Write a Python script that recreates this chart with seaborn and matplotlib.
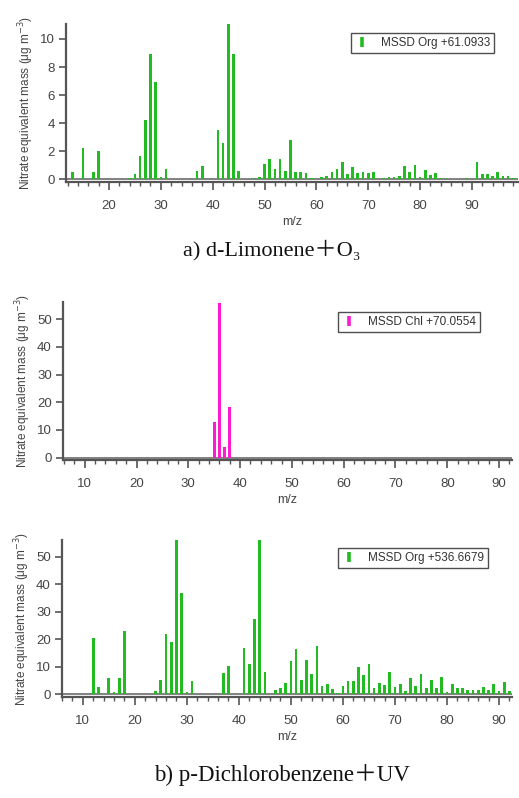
import numpy as np
import pandas as pd
import matplotlib
matplotlib.use("Agg")
import matplotlib.pyplot as plt
from matplotlib.lines import Line2D
from matplotlib.ticker import MultipleLocator
import seaborn as sns

# ---------------- data ----------------
mz_a = [13, 15, 17, 18, 24, 25, 26, 27, 28, 29, 30, 31, 37, 38, 41, 42, 43, 44, 45,
        48, 49, 50, 51, 52, 53, 54, 55, 56, 57, 58, 59, 61, 62, 63, 64, 65, 66, 67,
        68, 69, 70, 71, 73, 74, 75, 76, 77, 78, 79, 80, 81, 82, 83, 84, 85, 89, 91,
        92, 93, 94, 95, 96, 97, 98]
val_a = [0.5, 2.25, 0.5, 2.0, 0.1, 0.35, 1.65, 4.25, 8.9, 6.95, 0.15, 0.7, 0.55, 0.9,
         3.5, 2.55, 11.1, 8.9, 0.6, 0.1, 0.15, 1.1, 1.4, 0.75, 1.45, 0.55, 2.8, 0.5,
         0.5, 0.45, 0.05, 0.15, 0.25, 0.5, 0.75, 1.2, 0.35, 0.85, 0.4, 0.5, 0.4, 0.5,
         0.05, 0.12, 0.12, 0.2, 0.9, 0.5, 1.0, 0.15, 0.65, 0.3, 0.4, 0.1, 0.1, 0.1,
         1.2, 0.35, 0.35, 0.25, 0.5, 0.2, 0.2, 0.1]

mz_b = [35, 36, 37, 38]
val_b = [12.7, 56.0, 4.0, 18.2]

mz_c = [12, 13, 15, 16, 17, 18, 24, 25, 26, 27, 28, 29, 30, 31, 37, 38, 41, 42, 43, 44,
        45, 47, 48, 49, 50, 51, 52, 53, 54, 55, 56, 57, 58, 59, 60, 61, 62, 63, 64, 65,
        66, 67, 68, 69, 70, 71, 72, 73, 74, 75, 76, 77, 78, 79, 80, 81, 82, 83, 84, 85,
        86, 87, 88, 89, 90, 91, 92]
val_c = [20.6, 2.8, 5.8, 0.7, 5.8, 22.9, 1.3, 5.2, 21.8, 19.1, 56.0, 36.9, 0.7, 5.0,
         7.6, 10.4, 16.7, 11.1, 27.2, 56.0, 8.0, 1.7, 2.4, 4.2, 12.1, 16.3, 5.1, 12.5,
         7.3, 17.6, 3.1, 3.9, 1.8, 0.6, 3.1, 4.7, 4.7, 9.8, 7.0, 11.1, 2.2, 4.2, 3.5,
         8.1, 2.8, 3.6, 1.1, 5.8, 3.1, 7.3, 2.1, 5.2, 2.1, 6.1, 0.7, 3.6, 2.4, 2.4, 1.5,
         1.5, 1.5, 2.7, 1.7, 3.6, 1.3, 4.5, 1.3]

legend_a = "MSSD Org +61.0933"
legend_b = "MSSD Chl +70.0554"
legend_c = "MSSD Org +536.6679"
caption_a = "a) d-Limonene\uff0bO\u2083"
caption_b = "b) p-Dichlorobenzene\uff0bUV"
ylabel = "Nitrate equivalent mass (\u03bcg m$^{-3}$)"
xlabel = "m/z"

GREEN = "#22bb22"
MAGENTA = "#ff1ad1"
AXC = "#555555"
TXT = "#444444"

sns.set_style("white")
plt.rcParams["font.family"] = ["Liberation Sans", "DejaVu Sans"]

W, H = 519, 798
fig = plt.figure(figsize=(W / 100, H / 100), dpi=100)


def px_axes(l, r, t, b):
    return fig.add_axes([l / W, 1 - b / H, (r - l) / W, (b - t) / H])


def style(ax, xlim, ylim, ymaj, leg_text, color, leg_xy):
    ax.set_xlim(*xlim)
    ax.set_ylim(*ylim)
    ax.axhline(0, color="#777777", lw=1.3, zorder=0.5)
    for s in ["top", "right"]:
        ax.spines[s].set_visible(False)
    for s in ["left", "bottom"]:
        ax.spines[s].set_color(AXC)
        ax.spines[s].set_linewidth(1.6)
    ax.xaxis.set_major_locator(MultipleLocator(10))
    ax.xaxis.set_minor_locator(MultipleLocator(2))
    ax.yaxis.set_major_locator(MultipleLocator(ymaj))
    ax.tick_params(axis="x", which="major", direction="out", length=6, width=1.2,
                   color=AXC, labelcolor=TXT, labelsize=9.5, bottom=True, pad=7)
    ax.tick_params(axis="y", which="major", direction="out", length=5, width=1.2,
                   color=AXC, labelcolor=TXT, labelsize=9.5, left=True, pad=3)
    ax.tick_params(axis="x", which="minor", direction="out", length=3, width=1.0,
                   color=AXC, bottom=True)
    ax.set_xlabel(xlabel, fontsize=9, color=TXT, labelpad=3)
    ax.set_ylabel(ylabel, fontsize=8.5, color=TXT, labelpad=3)
    h = Line2D([], [], color=color, lw=0, marker="|", markersize=7, markeredgewidth=2.6)
    leg = ax.legend([h], [leg_text], loc="upper right",
                    bbox_to_anchor=(leg_xy[0] / W, 1 - leg_xy[1] / H),
                    bbox_transform=fig.transFigure, fontsize=8.5, frameon=True,
                    fancybox=False, edgecolor="#222222", handlelength=1.2,
                    handletextpad=1.0, borderpad=0.35, borderaxespad=0)
    leg.get_frame().set_linewidth(1.0)
    for t in leg.get_texts():
        t.set_color("#333333")


def draw(ax, mz, val, color):
    df = pd.DataFrame({"mz": mz, "val": val})
    sns.barplot(data=df, x="mz", y="val", native_scale=True, width=0.52,
                color=color, saturation=1, errorbar=None, ax=ax, linewidth=0)


ax1 = px_axes(66, 518, 24, 182)
draw(ax1, mz_a, val_a, GREEN)
style(ax1, (11.7, 98.9), (-0.21, 11.07), 2, legend_a, GREEN, (494, 33))

ax2 = px_axes(63, 512, 302, 460)
draw(ax2, mz_b, val_b, MAGENTA)
style(ax2, (5.8, 92.5), (-0.85, 56.2), 10, legend_b, MAGENTA, (480, 312))

ax3 = px_axes(62, 512, 540, 697)
draw(ax3, mz_c, val_c, GREEN)
style(ax3, (6.0, 92.5), (-1.0, 56.1), 10, legend_c, GREEN, (488, 548))

cap_fam = ["Liberation Serif", "DejaVu Serif", "Noto Sans CJK SC"]
fig.text(272 / W, 1 - 250 / H, caption_a, ha="center", va="center", fontsize=16,
         family=cap_fam, color="#111111")
fig.text(282 / W, 1 - 775 / H, caption_b, ha="center", va="center", fontsize=16.5,
         family=cap_fam, color="#111111")

fig.savefig("out.png", dpi=100, facecolor="white")
